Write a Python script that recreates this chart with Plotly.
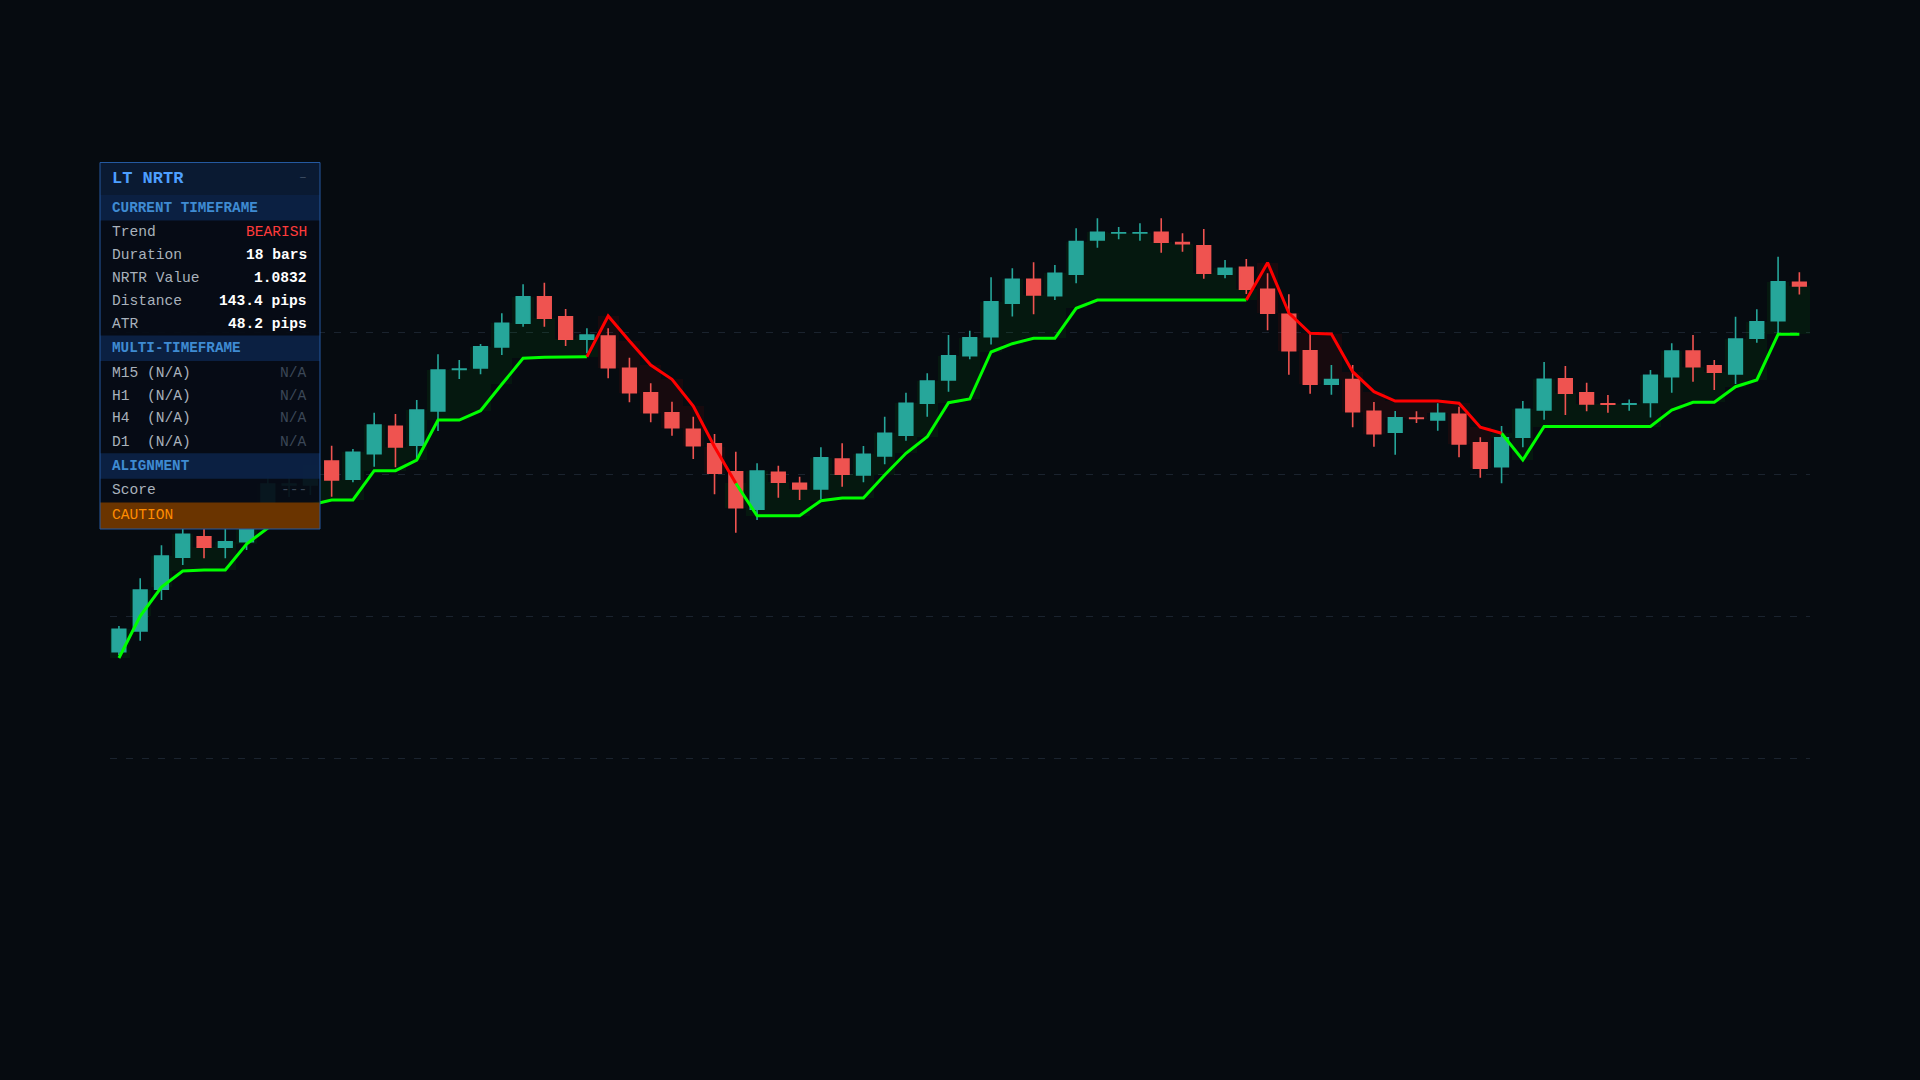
import plotly.graph_objects as go

# ---------------- data ----------------
bar_index = list(range(80))

opens = [1.05803, 1.06010, 1.06427, 1.06747, 1.06953, 1.06847, 1.06903, 1.07200, 1.07470, 1.07470,
         1.07710, 1.07527, 1.07783, 1.08057, 1.07867, 1.08210, 1.08625, 1.08640, 1.08850, 1.09087,
         1.09353, 1.09153, 1.08927, 1.08960, 1.08637, 1.08393, 1.08193, 1.08027, 1.07883, 1.07603,
         1.07227, 1.07597, 1.07487, 1.07430, 1.07730, 1.07570, 1.07760, 1.07967, 1.08287, 1.08520,
         1.08763, 1.08953, 1.09287, 1.09528, 1.09363, 1.09578, 1.09920, 1.09990, 1.09990, 1.09997,
         1.09895, 1.09863, 1.09578, 1.09647, 1.09427, 1.09178, 1.08813, 1.08477, 1.08525, 1.08207,
         1.07998, 1.08140, 1.08120, 1.08177, 1.07893, 1.07653, 1.07947, 1.08220, 1.08533, 1.08393,
         1.08282, 1.08277, 1.08295, 1.08553, 1.08810, 1.08663, 1.08580, 1.08937, 1.09113, 1.09497]

highs = [1.06060, 1.06537, 1.06867, 1.07060, 1.07040, 1.07050, 1.07270, 1.07560, 1.07560, 1.07740,
         1.07863, 1.07830, 1.08193, 1.08180, 1.08320, 1.08777, 1.08720, 1.08880, 1.09187, 1.09477,
         1.09493, 1.09230, 1.09037, 1.09037, 1.08743, 1.08487, 1.08303, 1.08153, 1.07980, 1.07803,
         1.07687, 1.07663, 1.07553, 1.07847, 1.07887, 1.07860, 1.08153, 1.08393, 1.08587, 1.08970,
         1.09013, 1.09547, 1.09637, 1.09697, 1.09670, 1.10037, 1.10137, 1.10050, 1.10087, 1.10137,
         1.09987, 1.10030, 1.09720, 1.09730, 1.09587, 1.09378, 1.08985, 1.08670, 1.08670, 1.08300,
         1.08210, 1.08207, 1.08287, 1.08253, 1.07948, 1.08060, 1.08310, 1.08700, 1.08660, 1.08493,
         1.08370, 1.08325, 1.08620, 1.08887, 1.08970, 1.08720, 1.09153, 1.09227, 1.09753, 1.09597]

lows = [1.05770, 1.05913, 1.06320, 1.06670, 1.06737, 1.06737, 1.06820, 1.07140, 1.07350, 1.07370,
        1.07353, 1.07497, 1.07653, 1.07647, 1.07720, 1.08010, 1.08530, 1.08577, 1.08770, 1.09053,
        1.09053, 1.08860, 1.08787, 1.08537, 1.08297, 1.08097, 1.07963, 1.07730, 1.07377, 1.06993,
        1.07120, 1.07343, 1.07320, 1.07330, 1.07453, 1.07497, 1.07677, 1.07913, 1.08153, 1.08403,
        1.08727, 1.08875, 1.09155, 1.09177, 1.09320, 1.09487, 1.09843, 1.09927, 1.09913, 1.09793,
        1.09803, 1.09533, 1.09537, 1.09380, 1.09017, 1.08573, 1.08383, 1.08373, 1.08047, 1.07853,
        1.07773, 1.08090, 1.08012, 1.07747, 1.07543, 1.07487, 1.07847, 1.08123, 1.08170, 1.08207,
        1.08193, 1.08213, 1.08145, 1.08393, 1.08503, 1.08420, 1.08480, 1.08893, 1.08990, 1.09375]

closes = [1.06027, 1.06420, 1.06760, 1.06977, 1.06847, 1.06903, 1.07170, 1.07480, 1.07480, 1.07660,
          1.07520, 1.07797, 1.08070, 1.07850, 1.08220, 1.08620, 1.08630, 1.08853, 1.09087, 1.09353,
          1.09137, 1.08927, 1.08970, 1.08643, 1.08393, 1.08193, 1.08043, 1.07863, 1.07587, 1.07243,
          1.07610, 1.07497, 1.07430, 1.07743, 1.07577, 1.07777, 1.07987, 1.08287, 1.08510, 1.08763,
          1.08943, 1.09303, 1.09527, 1.09370, 1.09587, 1.09905, 1.09997, 1.09993, 1.09993, 1.09897,
          1.09882, 1.09587, 1.09637, 1.09427, 1.09187, 1.08813, 1.08477, 1.08525, 1.08203, 1.07982,
          1.08143, 1.08135, 1.08187, 1.07880, 1.07637, 1.07943, 1.08228, 1.08527, 1.08387, 1.08280,
          1.08277, 1.08282, 1.08568, 1.08810, 1.08653, 1.08597, 1.08930, 1.09103, 1.09503, 1.09460]

nrtr = [1.05740, 1.06160, 1.06450, 1.06610, 1.06620, 1.06620, 1.06880, 1.07040, 1.07170, 1.07270,
        1.07320, 1.07320, 1.07613, 1.07613, 1.07720, 1.08120, 1.08120, 1.08213, 1.08477, 1.08737,
        1.08747, 1.08753, 1.08753, 1.09160, 1.08910, 1.08670, 1.08527, 1.08260, 1.07853, 1.07487,
        1.07163, 1.07163, 1.07163, 1.07313, 1.07340, 1.07340, 1.07570, 1.07787, 1.07953, 1.08293,
        1.08330, 1.08800, 1.08883, 1.08937, 1.08937, 1.09237, 1.09320, 1.09320, 1.09320, 1.09320,
        1.09320, 1.09320, 1.09320, 1.09320, 1.09693, 1.09190, 1.08987, 1.08980, 1.08603, 1.08403,
        1.08310, 1.08310, 1.08310, 1.08287, 1.08047, 1.07987, 1.07720, 1.08055, 1.08055, 1.08055,
        1.08055, 1.08055, 1.08055, 1.08220, 1.08297, 1.08297, 1.08453, 1.08520, 1.08977, 1.08977]

# 1 = bullish NRTR (support), -1 = bearish NRTR (resistance)
trend = [1, 1, 1, 1, 1, 1, 1, 1, 1, 1,
         1, 1, 1, 1, 1, 1, 1, 1, 1, 1,
         1, 1, 1, -1, -1, -1, -1, -1, -1, 1,
         1, 1, 1, 1, 1, 1, 1, 1, 1, 1,
         1, 1, 1, 1, 1, 1, 1, 1, 1, 1,
         1, 1, 1, 1, -1, -1, -1, -1, -1, -1,
         -1, -1, -1, -1, -1, 1, 1, 1, 1, 1,
         1, 1, 1, 1, 1, 1, 1, 1, 1, 1]

grid_levels = [1.0474, 1.0616, 1.0758, 1.0900]

panel_title = "LT NRTR"
current_rows = [("Trend", "BEARISH"), ("Duration", "18 bars"), ("NRTR Value", "1.0832"),
                ("Distance", "143.4 pips"), ("ATR", "48.2 pips")]
mtf_rows = [("M15 (N/A)", "N/A"), ("H1  (N/A)", "N/A"), ("H4  (N/A)", "N/A"), ("D1  (N/A)", "N/A")]
alignment_rows = [("Score", "---")]
status_text = "CAUTION"

# ---------------- styling ----------------
BG = "#060b10"
UP = "#26a69a"
DOWN = "#ef5350"
LINE_UP = "#00ff00"
LINE_DN = "#ff0000"
W, H = 1920, 1080
ML, MR = 110, 110
MONO = "Courier New, Liberation Mono, monospace"

n = len(bar_index)
up_line = [nrtr[i] if trend[i] == 1 else None for i in range(n)]
dn_line = []
for i in range(n):
    prev_dn = i > 0 and trend[i - 1] == -1
    next_dn = i < n - 1 and trend[i + 1] == -1
    dn_line.append(nrtr[i] if (trend[i] == -1 or prev_dn or next_dn) else None)

fig = go.Figure()

# trend fill between NRTR and close
for sign, col in ((1, "rgba(0,255,0,0.055)"), (-1, "rgba(255,0,0,0.07)")):
    xs = [bar_index[i] for i in range(n) if trend[i] == sign]
    base = [nrtr[i] for i in range(n) if trend[i] == sign]
    hgt = [closes[i] - nrtr[i] for i in range(n) if trend[i] == sign]
    fig.add_trace(go.Bar(x=xs, y=hgt, base=base, width=1.0, marker=dict(color=col, line=dict(width=0)),
                         hoverinfo="skip", showlegend=False))

fig.add_trace(go.Candlestick(
    x=bar_index, open=opens, high=highs, low=lows, close=closes,
    increasing=dict(line=dict(color=UP, width=1.6), fillcolor=UP),
    decreasing=dict(line=dict(color=DOWN, width=1.6), fillcolor=DOWN),
    whiskerwidth=0, showlegend=False, name="Price"))

fig.add_trace(go.Scatter(x=bar_index, y=up_line, mode="lines", line=dict(color=LINE_UP, width=3),
                         connectgaps=False, showlegend=False, name="NRTR up"))
fig.add_trace(go.Scatter(x=bar_index, y=dn_line, mode="lines", line=dict(color=LINE_DN, width=3),
                         connectgaps=False, showlegend=False, name="NRTR down"))

y_top = 1.1232
y_bot = y_top - 0.1080

fig.update_layout(
    width=W, height=H,
    margin=dict(l=ML, r=MR, t=0, b=0),
    paper_bgcolor=BG, plot_bgcolor=BG,
    barmode="overlay", bargap=0,
    boxgap=0.2, boxgroupgap=0.2,
    showlegend=False,
    xaxis=dict(range=[-0.42, 79.5], showgrid=False, zeroline=False, showticklabels=False,
               showline=False, rangeslider=dict(visible=False), fixedrange=True),
    yaxis=dict(range=[y_bot, y_top], tickvals=grid_levels, showticklabels=False, zeroline=False,
               showline=False, gridcolor="#1a232e", gridwidth=1, griddash="7px,9px", fixedrange=True),
)

# ---------------- info panel (pixel layout helpers) ----------------
PW = W - ML - MR


def px(x):
    return (x - ML) / PW


def py(y):
    return 1 - y / H


shapes = []
annots = []


def rect(x0, y0, x1, y1, fill, line=None):
    shapes.append(dict(type="rect", xref="paper", yref="paper", x0=px(x0), x1=px(x1), y0=py(y1), y1=py(y0),
                       fillcolor=fill, line=dict(width=1 if line else 0, color=line or "rgba(0,0,0,0)"),
                       layer="above"))


def text(x, y, s, color, size=15, bold=False, anchor="left"):
    annots.append(dict(xref="paper", yref="paper", x=px(x), y=py(y), text=(f"<b>{s}</b>" if bold else s),
                       showarrow=False, xanchor=anchor, yanchor="middle",
                       font=dict(family=MONO, size=size, color=color)))


L, R = 100, 320
TX, VX = 109.5, 309
rect(L, 162.5, R, 529, "rgba(6,12,22,0.93)")
rect(L, 162.5, R, 195, "rgba(11,27,52,0.95)")
text(TX, 178.5, panel_title, "#4d9fff", size=17, bold=True)
text(VX, 178, "–", "#3d4d63", size=13, anchor="right")

y = 195
sections = [("CURRENT TIMEFRAME", current_rows), ("MULTI-TIMEFRAME", mtf_rows), ("ALIGNMENT", alignment_rows)]
for title, rows in sections:
    rect(L, y, R, y + 25.5, "rgba(12,34,68,0.95)")
    text(TX, y + 12.8, title, "#3f8bd2", size=14.3, bold=True)
    y += 25.5
    for lab, val in rows:
        yc = y + 11.5
        text(TX, yc, lab, "#a9b2bc", size=14.6)
        if val == "BEARISH":
            text(VX, yc, val, "#ff3b3b", size=14.6, anchor="right")
        elif val in ("N/A", "---"):
            text(VX, yc, val, "#3b4757", size=14.6, anchor="right")
        else:
            text(VX, yc, val, "#ffffff", size=14.6, bold=True, anchor="right")
        y += 23
    if title == "MULTI-TIMEFRAME":
        y = 453.3
rect(L, 502.5, R, 529, "#6a3400")
text(TX, 515.5, status_text, "#ff8c00", size=14.6)
rect(L, 162.5, R, 529, "rgba(0,0,0,0)", line="#2459a0")

fig.update_layout(shapes=shapes, annotations=annots)

fig.write_html("out.html", config={"displayModeBar": False, "staticPlot": True},
               post_script="document.body.style.margin='0';document.body.style.background='#060b10';"
                           "document.body.style.overflow='hidden';")
